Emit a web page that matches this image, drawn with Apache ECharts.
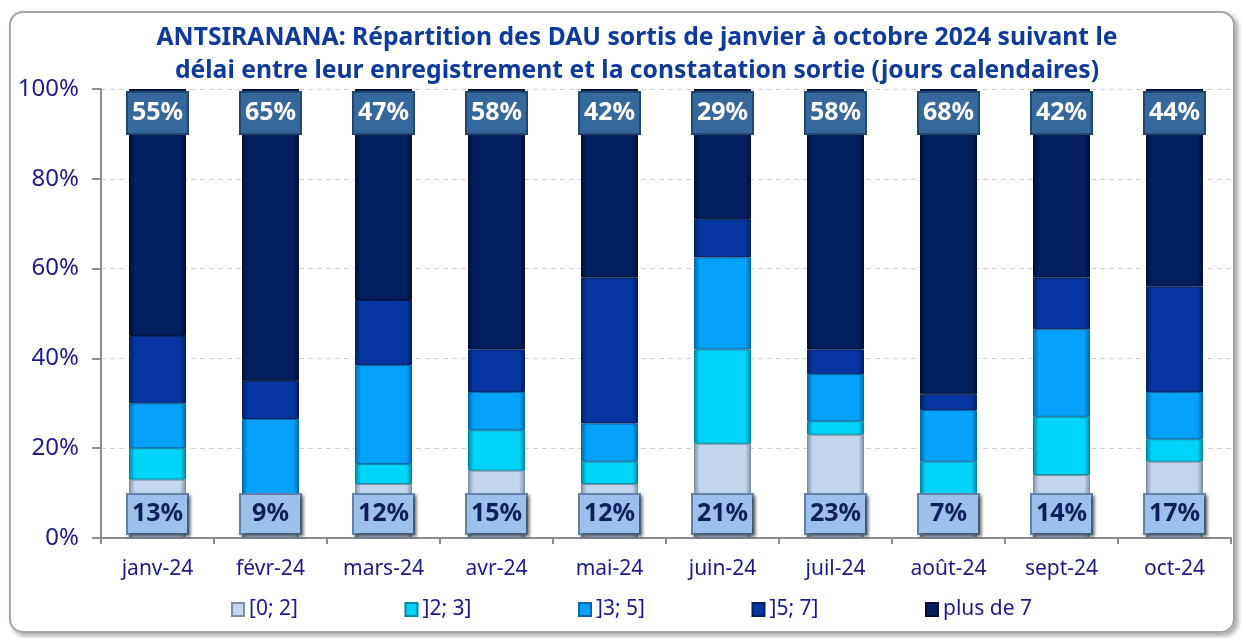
<!DOCTYPE html>
<html>
<head>
<meta charset="utf-8">
<script src="https://cdn.jsdelivr.net/npm/echarts@6/dist/echarts.min.js"></script>
<style>
  html, body { margin: 0; padding: 0; background: #fff; }
  #frame {
    position: absolute; left: 9px; top: 11px; width: 1222px; height: 618px;
    border: 2px solid #a5a5a5; border-radius: 14px;
    box-shadow: 3px 3px 5px rgba(0,0,0,0.35);
  }
  #chart { position: absolute; left: 0; top: 0; width: 1242px; height: 638px; }
</style>
</head>
<body>
<div id="frame"></div>
<div id="chart"></div>
<script>
// mois (axe des x)
const months = ['janv-24', 'févr-24', 'mars-24', 'avr-24', 'mai-24', 'juin-24', 'juil-24', 'août-24', 'sept-24', 'oct-24'];
// tranches de délai (légende)
const delays = ['[0; 2]', ']2; 3]', ']3; 5]', ']5; 7]', 'plus de 7'];

// parts en % par tranche
const d0to2   = [13,  9,  12, 15, 12, 21, 23,  7, 14, 17];
const d2to3   = [ 7,  0, 4.5,  9,  5, 21,  3, 10, 13,  5];
const d3to5   = [10, 17.5, 22, 8.5, 8.5, 20.5, 10.5, 11.5, 19.5, 10.5];
const d5to7   = [15, 8.5, 14.5, 9.5, 32.5, 8.5, 5.5, 3.5, 11.5, 23.5];
const dPlus7  = [55, 65,  47, 58, 42, 29, 58, 68, 42, 44];

const colors = ['#c3d6ee', '#00d4fb', '#04a2fb', '#0535a0', '#041f5f'];
const edges  = ['#7f8fa3', '#00869e', '#0567a6', '#03205f', '#020f33'];

// léger effet biseauté sur les barres
function bevel(c, e) {
  return new echarts.graphic.LinearGradient(0, 0, 1, 0, [
    { offset: 0, color: e }, { offset: 0.1, color: c },
    { offset: 0.9, color: c }, { offset: 1, color: e }
  ]);
}

const allData = [d0to2, d2to3, d3to5, d5to7, dPlus7];

const series = delays.map(function (name, i) {
  const s = {
    name: name,
    type: 'bar',
    stack: 'total',
    barWidth: 57,
    data: allData[i],
    itemStyle: { color: bevel(colors[i], edges[i]), borderColor: edges[i], borderWidth: 1 },
    emphasis: { disabled: true }
  };
  if (i === 0) {
    s.label = {
      show: true, position: 'insideBottom', distance: 5,
      formatter: p => Math.round(p.value) + '%',
      color: '#0b1f5c', fontSize: 25, fontWeight: 'bold', fontFamily: 'Noto Sans',
      backgroundColor: '#9dc0ea', borderColor: '#6582a6', borderWidth: 2,
      width: 55, lineHeight: 28, align: 'center', padding: [5, 2, 5, 2],
      shadowColor: 'rgba(0,0,0,0.4)', shadowBlur: 3, shadowOffsetX: 2, shadowOffsetY: 2
    };
  }
  if (i === 4) {
    s.label = {
      show: true, position: 'insideTop', distance: 4,
      formatter: p => Math.round(p.value) + '%',
      color: '#ffffff', fontSize: 25, fontWeight: 'bold', fontFamily: 'Noto Sans',
      backgroundColor: '#35689c', borderColor: '#22476e', borderWidth: 2,
      width: 55, lineHeight: 28, align: 'center', padding: [6, 2, 6, 2]
    };
  }
  return s;
});

// une légende par tranche, espacées régulièrement comme dans Excel
const legends = delays.map(function (name, i) {
  return {
    data: [name],
    left: 226 + i * 173.5, top: 594,
    icon: 'rect', itemWidth: 12, itemHeight: 13,
    textStyle: { color: '#1a1a8c', fontSize: 21, fontFamily: 'Noto Sans' }
  };
});

const chart = echarts.init(document.getElementById('chart'));
chart.setOption({
  animation: false,
  color: colors,
  title: {
    text: 'ANTSIRANANA: Répartition des DAU sortis de janvier à octobre 2024 suivant le\ndélai entre leur enregistrement et la constatation sortie (jours calendaires)',
    left: 632, top: 16, textAlign: 'center',
    textStyle: { color: '#0d3a9b', fontSize: 24.7, fontWeight: 'bold', fontFamily: 'Noto Sans', lineHeight: 33 }
  },
  legend: legends,
  grid: { left: 101, right: 11, top: 89, bottom: 100 },
  xAxis: {
    type: 'category',
    data: months,
    axisLine: { lineStyle: { color: '#8c8c8c', width: 2 } },
    axisTick: { show: true, length: 6, lineStyle: { color: '#8c8c8c', width: 2 } },
    axisLabel: { color: '#1a1a8c', fontSize: 21, fontFamily: 'Noto Sans', margin: 21 }
  },
  yAxis: {
    type: 'value',
    min: 0, max: 100, interval: 20,
    axisLine: { show: true, lineStyle: { color: '#8c8c8c', width: 2 } },
    axisTick: { show: true, length: 9, lineStyle: { color: '#8c8c8c', width: 2 } },
    axisLabel: { color: '#1a1a8c', fontSize: 24, fontFamily: 'Noto Sans', margin: 22, formatter: '{value}%' },
    splitLine: { lineStyle: { color: '#d0d0d0', type: [5, 4] } }
  },
  series: series
});
</script>
</body>
</html>
